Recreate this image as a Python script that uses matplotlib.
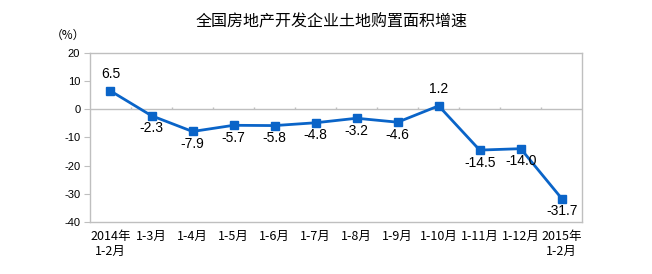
import matplotlib
matplotlib.use('Agg')

import matplotlib.pyplot as plt
import numpy as np

plt.rcParams['font.family'] = ['Liberation Sans', 'Noto Sans CJK SC', 'DejaVu Sans']

#chart data
categories = ['2014年\n1-2月', '1-3月', '1-4月', '1-5月', '1-6月', '1-7月', '1-8月',
              '1-9月', '1-10月', '1-11月', '1-12月', '2015年\n1-2月']
growth = [6.5, -2.3, -7.9, -5.7, -5.8, -4.8, -3.2, -4.6, 1.2, -14.5, -14.0, -31.7]
label_above = [True, False, False, False, False, False, False, False, True, False, False, False]
y_ticks = [20, 10, 0, -10, -20, -30, -40]

line_color = '#0a64c8'
frame_color = '#bfbfbf'

fig = plt.figure(figsize=(6.52, 2.74), dpi=100)
ax = fig.add_axes([0.138, 0.190, 0.755, 0.617])

x = np.arange(len(categories))
ax.plot(x, growth, color=line_color, lw=2, marker='s', markersize=6, zorder=3)

#value labels
for xi, yi, above in zip(x, growth, label_above):
    if above:
        ax.annotate('{:.1f}'.format(yi), (xi, yi), xytext=(0, 7), textcoords='offset points',
                    ha='center', va='bottom', fontsize=10)
    else:
        ax.annotate('{:.1f}'.format(yi), (xi, yi), xytext=(0, -4), textcoords='offset points',
                    ha='center', va='top', fontsize=10)

#zero line with category separators
ax.axhline(0, color=frame_color, lw=1, zorder=1)
ax.vlines(x[:-1] + 0.5, 0, 0.8, color=frame_color, lw=1, zorder=1)

ax.set_xlim(-0.5, len(categories) - 0.5)
ax.set_ylim(-40, 20)
ax.set_yticks(y_ticks)
ax.set_yticklabels([str(t) for t in y_ticks], fontsize=8, family=['Liberation Sans Narrow', 'Liberation Sans'])
ax.set_xticks(x)
ax.set_xticklabels(categories, fontsize=9, family=['Noto Sans CJK SC', 'DejaVu Sans'], linespacing=1.2, va='top')
ax.tick_params(axis='x', length=0, pad=6)
ax.tick_params(axis='y', length=4, color=frame_color, pad=3)

for spine in ax.spines.values():
    spine.set_color(frame_color)
    spine.set_linewidth(1)

fig.text(0.508, 0.92, '全国房地产开发企业土地购置面积增速', ha='center', va='center',
         fontsize=11.5, family=['Noto Sans CJK SC', 'DejaVu Sans'])
fig.text(0.104, 0.872, '（%）', ha='center', va='center', fontsize=8.5,
         family=['Noto Sans CJK SC', 'DejaVu Sans'])

plt.savefig('out.png', dpi=100)
